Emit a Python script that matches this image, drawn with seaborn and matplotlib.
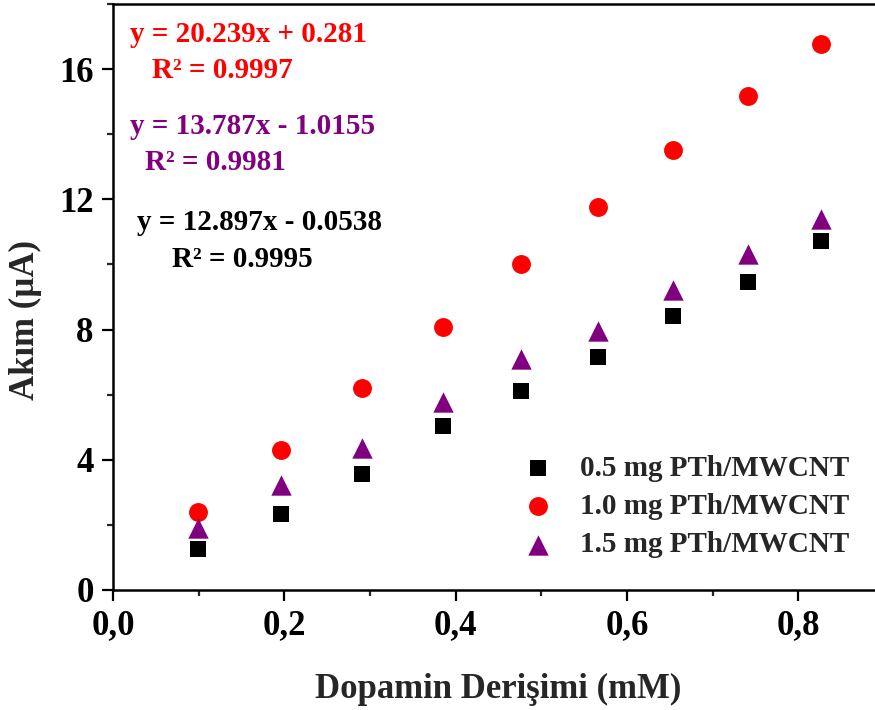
import matplotlib
matplotlib.use("Agg")
import matplotlib.pyplot as plt
from matplotlib.ticker import MultipleLocator, FuncFormatter
import seaborn as sns
import pandas as pd

# Dopamine concentration (mM)
concentration = [0.099, 0.196, 0.291, 0.385, 0.476, 0.566, 0.654, 0.741, 0.826]

# Peak current (µA) for each electrode loading
current_05 = [1.26, 2.34, 3.56, 5.03, 6.12, 7.17, 8.42, 9.45, 10.71]
current_10 = [2.39, 4.31, 6.20, 8.09, 10.02, 11.77, 13.53, 15.18, 16.78]
current_15 = [1.89, 3.23, 4.35, 5.78, 7.10, 7.97, 9.20, 10.33, 11.39]

series_labels = ["0.5 mg PTh/MWCNT", "1.0 mg PTh/MWCNT", "1.5 mg PTh/MWCNT"]
series_colors = ["#000000", "#FF0000", "#800080"]
series_markers = ["s", "o", "^"]
series_sizes = [135, 185, 215]

fit_equations = ["y = 20.239x + 0.281", "y = 13.787x - 1.0155", "y = 12.897x - 0.0538"]
fit_r2 = ["R² = 0.9997", "R² = 0.9981", "R² = 0.9995"]
fit_colors = ["#FF0000", "#800080", "#000000"]

sns.set_style("ticks")
plt.rcParams["font.family"] = ["Liberation Serif", "DejaVu Serif"]
plt.rcParams["font.weight"] = "bold"

W, H = 875, 710
fig = plt.figure(figsize=(W / 100, H / 100), dpi=100)
ax = fig.add_axes([113 / W, 120 / H, 771 / W, 586 / H])

frames = []
for values, label in zip([current_05, current_10, current_15], series_labels):
    frames.append(pd.DataFrame({"c": concentration, "i": values, "series": label}))
data = pd.concat(frames, ignore_index=True)

for label, color, marker, size in zip(series_labels, series_colors, series_markers, series_sizes):
    sns.scatterplot(data=data[data["series"] == label], x="c", y="i", ax=ax,
                    color=color, marker=marker, s=size, linewidth=0, label=label,
                    zorder=3)

ax.set_xlim(0, 0.9)
ax.set_ylim(0, 18)
ax.xaxis.set_major_locator(MultipleLocator(0.2))
ax.xaxis.set_minor_locator(MultipleLocator(0.1))
ax.yaxis.set_major_locator(MultipleLocator(4))
ax.yaxis.set_minor_locator(MultipleLocator(2))
ax.xaxis.set_major_formatter(FuncFormatter(lambda v, p: f"{v:.1f}".replace(".", ",")))
ax.yaxis.set_major_formatter(FuncFormatter(lambda v, p: f"{v:.0f}"))

ax.tick_params(axis="both", which="major", direction="out", length=8, width=1.6,
               labelsize=25, pad=6, colors="black")
ax.tick_params(axis="both", which="minor", direction="out", length=4.5, width=1.6)
ax.tick_params(top=False, right=False, which="both")
for lbl in ax.get_xticklabels() + ax.get_yticklabels():
    lbl.set_fontweight("bold")

for side in ["left", "bottom", "top", "right"]:
    ax.spines[side].set_linewidth(1.8)
    ax.spines[side].set_color("black")

ax.set_xlabel("Dopamin Derişimi (mM)", fontsize=25, fontweight="bold", labelpad=22)
ax.set_ylabel("Akım (µA)", fontsize=25, fontweight="bold")
ax.yaxis.set_label_coords((42 - 113) / 771, (590 - 320) / 586)

# Linear fit annotations
eq_pos = [(130, 35), (130, 127), (137, 223)]
r2_pos = [(152, 70), (145, 162), (172, 260)]
for eq, r2, col, (ex, ey), (rx, ry) in zip(fit_equations, fit_r2, fit_colors, eq_pos, r2_pos):
    fig.text(ex / W, 1 - ey / H, eq, color=col, fontsize=21, fontweight="bold",
             ha="left", va="center")
    fig.text(rx / W, 1 - ry / H, r2, color=col, fontsize=21, fontweight="bold",
             ha="left", va="center")

leg = ax.legend(loc="upper left", bbox_to_anchor=(523 / W, 1 - 455 / H),
                bbox_transform=fig.transFigure, frameon=False, fontsize=21,
                handlelength=1.0, handletextpad=0.95, labelspacing=0.38,
                borderpad=0, borderaxespad=0, markerscale=1.0)
for t in leg.get_texts():
    t.set_fontweight("bold")

fig.savefig("out.png", dpi=100)
